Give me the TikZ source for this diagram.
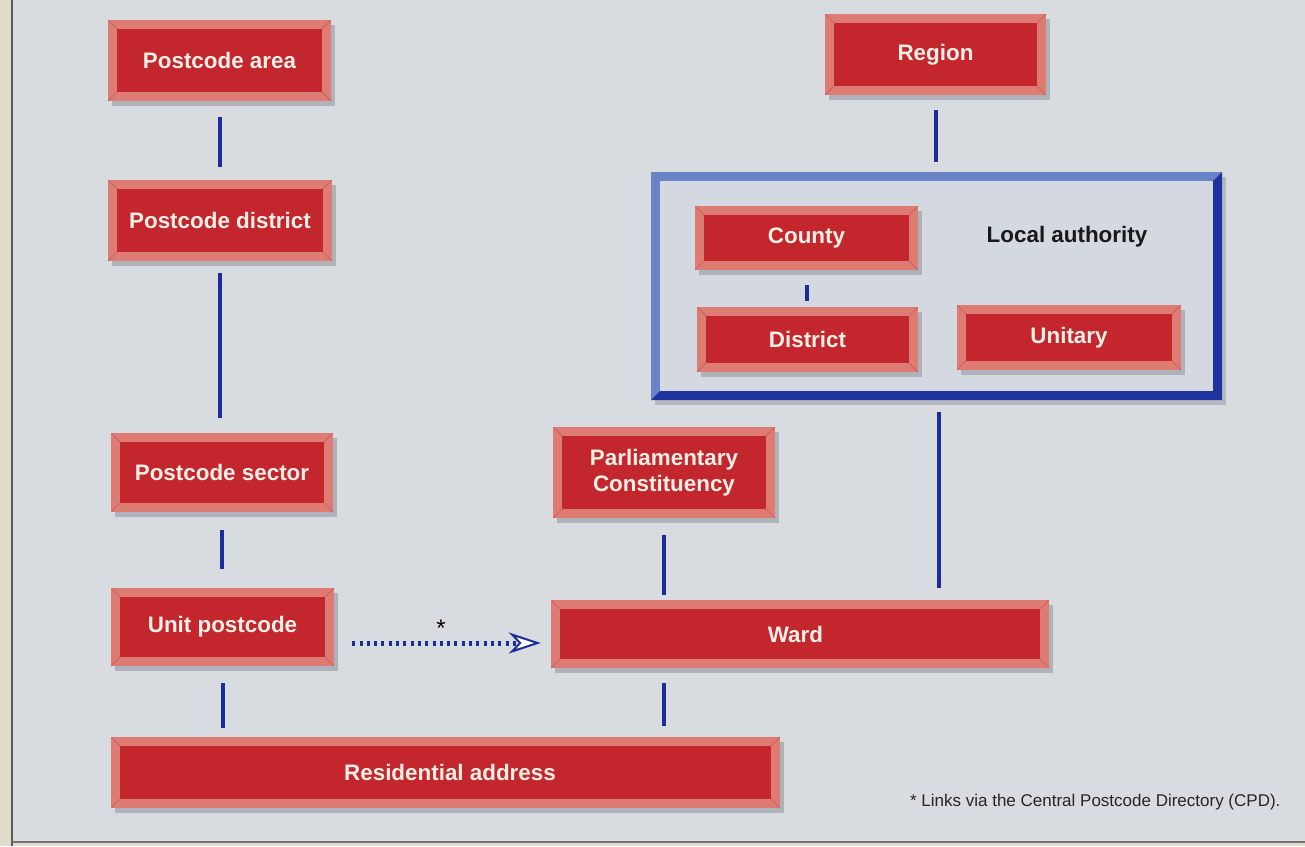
\documentclass[tikz,border=0pt]{standalone}
\usepackage{fontspec}
\setmainfont{Liberation Sans}
\usetikzlibrary{arrows.meta,shadows,calc}
\definecolor{bg}{HTML}{D8DBDF}
\definecolor{beige}{HTML}{E2DBCB}
\definecolor{boxred}{HTML}{C4262D}
\definecolor{bevelred}{HTML}{DE7C74}
\definecolor{bevelline}{HTML}{C8625B}
\definecolor{boxtext}{HTML}{F5EFE6}
\definecolor{linkblue}{HTML}{1B2C9B}
\definecolor{frameblue}{HTML}{6C82C6}
\definecolor{framedark}{HTML}{1E32A0}
\definecolor{frameinner}{HTML}{D4D8E1}
\definecolor{shadowgrey}{HTML}{9EA2A8}
\newcommand{\boxfont}{\fontsize{22.4}{26}\selectfont\bfseries}
\tikzset{
  redbox/.style={fill=bevelred, inner sep=0pt, text=boxtext, font=\boxfont, align=center,
    drop shadow={shadow xshift=4pt, shadow yshift=-5pt, fill=shadowgrey, opacity=0.7},
    path picture={
      \fill[boxred] ([shift={(9pt,9pt)}]path picture bounding box.south west) rectangle ([shift={(-9pt,-9pt)}]path picture bounding box.north east);
      \draw[bevelline, line width=0.8pt]
        (path picture bounding box.south west) -- ([shift={(9pt,9pt)}]path picture bounding box.south west)
        (path picture bounding box.north east) -- ([shift={(-9pt,-9pt)}]path picture bounding box.north east)
        (path picture bounding box.north west) -- ([shift={(9pt,-9pt)}]path picture bounding box.north west)
        (path picture bounding box.south east) -- ([shift={(-9pt,9pt)}]path picture bounding box.south east);
    }},
  laframe/.style={fill=frameblue, inner sep=0pt,
    drop shadow={shadow xshift=4pt, shadow yshift=-5pt, fill=shadowgrey, opacity=0.6},
    path picture={
      \fill[framedark] (path picture bounding box.north east) -- (path picture bounding box.south east) -- (path picture bounding box.south west)
        -- ([shift={(9pt,9pt)}]path picture bounding box.south west) -- ([shift={(-9pt,9pt)}]path picture bounding box.south east)
        -- ([shift={(-9pt,-9pt)}]path picture bounding box.north east) -- cycle;
      \fill[frameinner] ([shift={(9pt,9pt)}]path picture bounding box.south west) rectangle ([shift={(-9pt,-9pt)}]path picture bounding box.north east);
    }},
  link/.style={draw=linkblue, line width=4pt},
}
\begin{document}
\begin{tikzpicture}[x=1pt,y=-1pt]
\useasboundingbox (0,0) rectangle (1305,846);
% background
\fill[beige] (0,0) rectangle (1305,846);
\fill[bg] (12,0) rectangle (1305,842);
\draw[black!65, line width=1.5pt] (12,0) -- (12,846);
\draw[black!55, line width=1.2pt] (12,842) -- (1305,842);

% local authority frame
\node[laframe, minimum width=571pt, minimum height=228pt] (la) at (936.5,286) {};
\node[font=\boxfont, text=black!90] (lalabel) at (1067,237) {Local authority};

% boxes
\node[redbox, minimum width=223pt, minimum height=81pt] (parea) at (219.5,60.5) {Postcode area};
\node[redbox, minimum width=224pt, minimum height=81pt] (pdist) at (220,220.5) {Postcode district};
\node[redbox, minimum width=222pt, minimum height=79pt] (psect) at (222,472.5) {Postcode sector};
\node[redbox, minimum width=223pt, minimum height=78pt] (unit) at (222.5,627) {Unit postcode};
\node[redbox, minimum width=669pt, minimum height=71pt] (resid) at (445.5,772.5) {\hspace*{9pt}Residential address};
\node[redbox, minimum width=221pt, minimum height=81pt] (region) at (935.5,54.5) {Region};
\node[redbox, minimum width=222pt, minimum height=91pt] (parl) at (664,472.5) {Parliamentary\\[0pt]Constituency};
\node[redbox, minimum width=498pt, minimum height=68pt] (ward) at (800,634) {Ward\hspace*{9pt}};
\node[redbox, minimum width=223pt, minimum height=64pt] (county) at (806.5,238) {County};
\node[redbox, minimum width=221pt, minimum height=65pt] (district) at (807.5,339.5) {District};
\node[redbox, minimum width=224pt, minimum height=65pt] (unitary) at (1069,337.5) {Unitary};

% connectors
\draw[link, shorten <=16pt, shorten >=13pt] (parea.south) -- (parea.south |- pdist.north);
\draw[link, shorten <=12pt, shorten >=15pt] (pdist.south) -- (pdist.south |- psect.north);
\draw[link, shorten <=18pt, shorten >=19pt] (psect.south) -- (psect.south |- unit.north);
\draw[link, shorten <=17pt, shorten >=9pt] (unit.south) -- (unit.south |- resid.north);
\draw[link, shorten <=15pt, shorten >=10pt] (region.south) -- (region.south |- la.north);
\draw[link, shorten <=12pt, shorten >=12pt] ([xshift=2.5pt]la.south) -- ([xshift=2.5pt]la.south |- ward.north);
\draw[link, shorten <=15pt, shorten >=6pt] (county.south) -- (county.south |- district.north);
\draw[link, shorten <=17pt, shorten >=5pt] (parl.south) -- (parl.south |- ward.north);
\draw[link, shorten <=15pt, shorten >=11pt] (parl.south |- ward.south) -- (parl.south |- resid.north);
\draw[draw=linkblue, line width=5pt, dash pattern=on 3pt off 4.3pt, shorten <=18pt, shorten >=10pt,
  -{Stealth[length=32pt, width=21pt, inset=10pt, line width=2pt, fill=white]}]
  ([yshift=-16pt]unit.east) -- ([yshift=-9pt]ward.west);
\node[font=\fontsize{24}{24}\selectfont] (star) at (441,628) {*};

% footnote
\node[anchor=east, font=\fontsize{17}{20}\selectfont, text=black!85] (note) at (1284,802) {* Links via the Central Postcode Directory (CPD).};
\end{tikzpicture}
\end{document}
